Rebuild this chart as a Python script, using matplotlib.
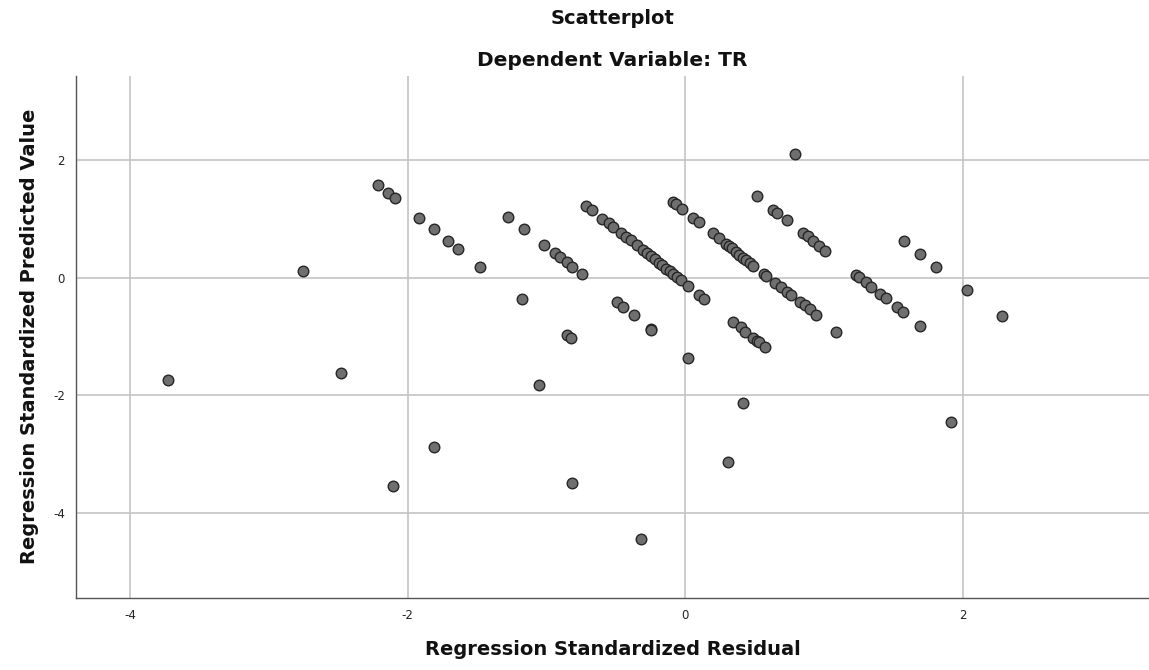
import matplotlib
matplotlib.use("Agg")
import matplotlib.pyplot as plt

# Regression standardized residual (x) and predicted value (y)
resid = [
    # upper-left diagonal
    -2.216, -2.142, -2.095, -1.921, -1.811, -1.712, -1.641, -1.476,
    # second diagonal
    -1.274, -1.162, -1.018, -0.939, -0.903, -0.854, -0.813, -0.746,
    # main dense diagonal
    -0.718, -0.674, -0.597, -0.553, -0.521, -0.467, -0.427, -0.395, -0.350,
    -0.308, -0.276, -0.247, -0.218, -0.193, -0.168, -0.139, -0.114, -0.089,
    -0.060, -0.031, 0.016, 0.095, 0.135,
    # lower short diagonal
    -0.491, -0.451, -0.370, -0.249, -0.244,
    -0.852, -0.823,
    # third diagonal
    -0.091, -0.070, -0.026, 0.058, 0.099, 0.202, 0.243, 0.290, 0.316, 0.333,
    0.363, 0.390, 0.418, 0.440, 0.466, 0.491, 0.567, 0.581, 0.646, 0.687,
    0.729, 0.759, 0.826, 0.862, 0.898, 0.938,
    # lower diagonal
    0.346, 0.398, 0.430, 0.486, 0.514, 0.534, 0.571,
    # upper diagonal right
    0.517, 0.635, 0.657, 0.731, 0.850, 0.884, 0.922, 0.965, 1.003,
    # right diagonal
    1.226, 1.254, 1.298, 1.336, 1.403, 1.442, 1.522, 1.568, 1.693,
    1.576, 1.691, 1.806,
    # isolated
    0.788, 1.086, 2.026, 2.278, 1.911, -2.754, -3.725, -2.481, -2.108,
    -1.808, -1.054, -1.180, -0.818, -0.317, 0.019, 0.418, 0.305,
]
pred = [
    1.573, 1.437, 1.351, 1.021, 0.824, 0.628, 0.489, 0.187,
    1.038, 0.824, 0.562, 0.412, 0.352, 0.264, 0.186, 0.058,
    1.220, 1.152, 1.003, 0.926, 0.860, 0.761, 0.684, 0.633, 0.557,
    0.471, 0.420, 0.361, 0.310, 0.254, 0.208, 0.153, 0.114, 0.063,
    0.012, -0.048, -0.141, -0.294, -0.363,
    -0.422, -0.502, -0.643, -0.877, -0.890,
    -0.980, -1.031,
    1.289, 1.250, 1.164, 1.008, 0.940, 0.752, 0.671, 0.580, 0.531, 0.500,
    0.443, 0.390, 0.330, 0.300, 0.255, 0.199, 0.063, 0.029, -0.095, -0.163,
    -0.238, -0.294, -0.414, -0.465, -0.541, -0.635,
    -0.751, -0.839, -0.919, -1.031, -1.083, -1.094, -1.185,
    1.382, 1.152, 1.106, 0.982, 0.761, 0.701, 0.630, 0.540, 0.460,
    0.046, 0.007, -0.082, -0.153, -0.277, -0.351, -0.499, -0.589, -0.822,
    0.630, 0.403, 0.187,
    2.100, -0.919, -0.204, -0.660, -2.451, 0.119, -1.750, -1.617, -3.546,
    -2.877, -1.830, -0.366, -3.500, -4.443, -1.375, -2.128, -3.142,
]

x_ticks = [-4, -2, 0, 2]
y_ticks = [2, 0, -2, -4]

title_main = "Scatterplot"
title_sub = "Dependent Variable: TR"
x_label = "Regression Standardized Residual"
y_label = "Regression Standardized Predicted Value"

plt.rcParams['font.family'] = ['DejaVu Sans']

fig = plt.figure(figsize=(11.49, 6.70), dpi=100)
ax = fig.add_axes([0.0661, 0.108, 0.934, 0.779])

ax.set_xlim(-4.39, 3.341)
ax.set_ylim(-5.447, 3.438)

ax.grid(True, color='#c4c4c4', linewidth=1.2, zorder=0)
ax.set_axisbelow(True)
ax.scatter(resid, pred, s=58, facecolor='#6f6f6f', edgecolor='#262626',
           linewidth=1.0, zorder=3)

ax.set_xticks(x_ticks)
ax.set_yticks(y_ticks)
ax.set_xticklabels([str(v) for v in x_ticks])
ax.set_yticklabels([str(v) for v in y_ticks])
ax.tick_params(axis='both', length=0, labelsize=8.5, colors='#222222', pad=8)

for s in ['top', 'right']:
    ax.spines[s].set_visible(False)
for s in ['left', 'bottom']:
    ax.spines[s].set_color('#555555')
    ax.spines[s].set_linewidth(1.0)

ax.set_xlabel(x_label, fontsize=14, fontweight='bold', labelpad=13, color='#111111')
ax.set_ylabel(y_label, fontsize=14, fontweight='bold', labelpad=10, color='#111111')

cx = 0.0661 + 0.934 / 2
fig.text(cx, 1 - 19 / 670, title_main, ha='center', va='center',
         fontsize=14, fontweight='bold', color='#111111')
fig.text(cx, 1 - 60 / 670, title_sub, ha='center', va='center',
         fontsize=14.5, fontweight='bold', color='#111111')

fig.savefig('out.png', dpi=100)
